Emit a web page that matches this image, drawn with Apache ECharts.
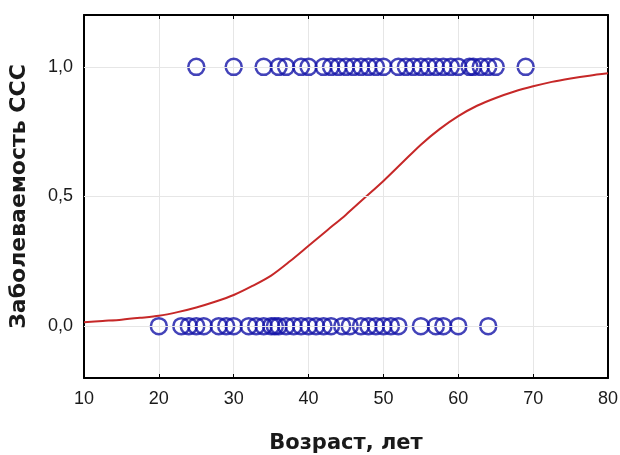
<!DOCTYPE html>
<html>
<head>
<meta charset="utf-8">
<script src="https://cdn.jsdelivr.net/npm/echarts@6/dist/echarts.min.js"></script>
<style>html,body{margin:0;padding:0;background:#fff}#c{width:620px;height:455px}</style>
</head>
<body>
<div id="c"></div>
<script>
var agesDiseased = [25,30,34,36,37,39,40,42,43,44,45,46,47,48,49,50,52,53,54,55,56,57,58,59,60,61.5,62,63,64,65,69];
var agesHealthy = [20,23,24,25,26,28,29,30,32,33,34,35,35.5,36,37,38,39,40,41,42,43,44.5,45.5,47,48,49,50,51,52,55,57,58,60,64];
var curveX = [10,12.5,15,17.5,20,22.5,25,27.5,30,32.5,35,37.5,40,42.5,45,47.5,50,52.5,55,57.5,60,62.5,65,67.5,70,72.5,75,77.5,80];
var curveY = [0.015,0.02,0.025,0.032,0.04,0.054,0.072,0.094,0.12,0.155,0.195,0.25,0.31,0.37,0.43,0.495,0.56,0.63,0.70,0.76,0.81,0.85,0.88,0.905,0.925,0.942,0.955,0.966,0.975];
var yTickValues = [0, 0.5, 1];
var yTickLabels = ['0,0', '0,5', '1,0'];

var chart = echarts.init(document.getElementById('c'));
var font = 'Liberation Sans, Arial, sans-serif';
var titleFont = 'DejaVu Sans, Liberation Sans, sans-serif';
var pts1 = agesDiseased.map(function(a){return [a,1];});
var pts0 = agesHealthy.map(function(a){return [a,0];});
var curve = curveX.map(function(x,i){return [x,curveY[i]];});
var scatterStyle = {color:'rgba(0,0,0,0)', borderColor:'#1414a8', borderWidth:2.5};
chart.setOption({
  animation:false,
  grid:{left:84,right:12,top:15,bottom:77, outerBoundsMode:'none'},
  xAxis:[{
    type:'value', min:10, max:80, interval:10,
    name:'Возраст, лет', nameLocation:'middle', nameGap:55,
    nameTextStyle:{fontFamily:titleFont, fontSize:21, fontWeight:'bold', color:'#1a1a1a'},
    axisLine:{onZero:false, lineStyle:{color:'#000', width:2}},
    axisTick:{inside:true, length:4, lineStyle:{color:'#000'}},
    axisLabel:{fontFamily:font, fontSize:18, color:'#1a1a1a', margin:12},
    splitLine:{show:true, lineStyle:{color:'#e6e6e6', width:1}}
  },{
    type:'value', position:'top', min:10, max:80, interval:10,
    axisLine:{show:true, onZero:false, lineStyle:{color:'#000', width:2}},
    axisTick:{show:true, inside:true, length:4, lineStyle:{color:'#000'}},
    axisLabel:{show:false}, splitLine:{show:false}
  }],
  yAxis:[{
    type:'value', min:-0.2, max:1.2, interval:0.1,
    name:'Заболеваемость ССС', nameLocation:'middle', nameGap:54, nameRotate:90,
    nameTextStyle:{fontFamily:titleFont, fontSize:22, fontWeight:'bold', color:'#1a1a1a'},
    axisLine:{show:true, onZero:false, lineStyle:{color:'#000', width:2}},
    axisTick:{show:true, inside:true, length:4, lineStyle:{color:'#000'}, customValues:yTickValues},
    axisLabel:{fontFamily:font, fontSize:18, color:'#1a1a1a', margin:11, customValues:yTickValues,
      formatter:function(v){var i=yTickValues.indexOf(Math.round(v*10)/10); return i>=0?yTickLabels[i]:'';}},
    splitLine:{show:false}
  },{
    type:'value', position:'right', min:-0.2, max:1.2, interval:0.1,
    axisLine:{show:true, onZero:false, lineStyle:{color:'#000', width:2}},
    axisTick:{show:true, inside:true, length:4, lineStyle:{color:'#000'}, customValues:yTickValues},
    axisLabel:{show:false}, splitLine:{show:false}
  }],
  series:[
    {type:'line', data:curve, smooth:0.3, symbol:'none', lineStyle:{color:'#c62828', width:2},
     markLine:{silent:true, symbol:'none', label:{show:false}, lineStyle:{color:'#e6e6e6', type:'solid', width:1},
       data:yTickValues.map(function(v){return {yAxis:v};})}, z:1},
    {type:'scatter', data:pts1, symbol:'circle', symbolSize:16, itemStyle:scatterStyle, z:3},
    {type:'scatter', data:pts0, symbol:'circle', symbolSize:16, itemStyle:scatterStyle, z:3}
  ]
});
</script>
</body>
</html>
